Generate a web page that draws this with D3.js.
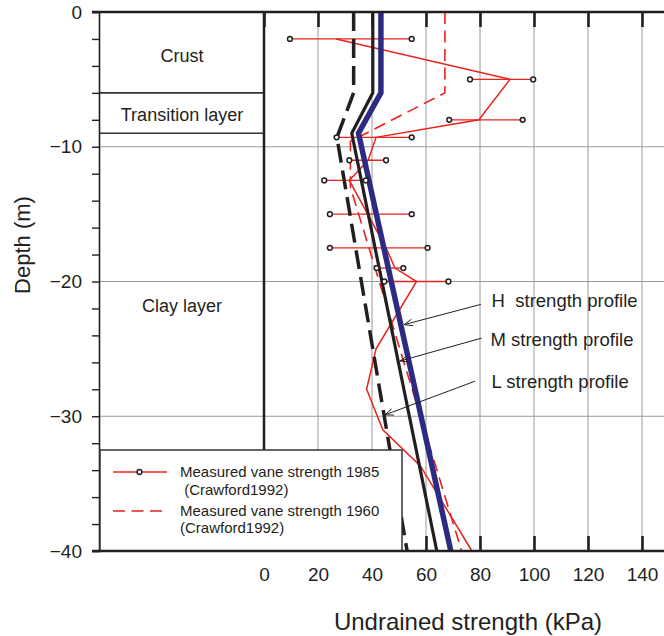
<!DOCTYPE html>
<html><head><meta charset="utf-8">
<script src="https://cdn.jsdelivr.net/npm/d3@7"></script>
<style>
html,body{margin:0;padding:0;background:#fff;}
text{font-family:"Liberation Sans",Arial,Helvetica,sans-serif;fill:#231f20;}
</style></head>
<body>
<svg id="chart" width="664" height="636"></svg>
<script>
// ---------- data ----------
const strengthTicks = [0, 20, 40, 60, 80, 100, 120, 140];
const depthTicks = [0, -10, -20, -30, -40];
const gridDepths = [-10, -20, -30];

// Strength profiles (kPa vs depth m)
const profileDepthH = [0, -6, -9, -40];
const profileH = [43.3, 43.3, 35, 69.2];
const profileDepthM = [0, -6, -9, -40];
const profileM = [40.3, 40.3, 32.5, 64];
const profileDepthL = [0, -6, -9.3, -40];
const profileL = [33.2, 33.2, 27, 53];

// Measured vane strength 1960 (Crawford 1992)
const vane1960Depth = [0, -6, -9.6, -13, -40];
const vane1960 = [67, 67, 32, 32, 73.2];

// Measured vane strength 1985 (Crawford 1992): mean line
const vane1985Depth = [-2, -5, -8, -9.3, -11, -12.5, -15, -17.5, -19, -20, -25, -28, -31, -33.7, -40];
const vane1985 = [26.7, 91.1, 79.6, 41.5, 38.6, 31.6, 38.4, 45.2, 48.5, 56.5, 41.5, 38, 44, 58, 77];
// range bars
const barDepth = [-2, -5, -8, -9.3, -11, -12.5, -15, -17.5, -19, -20];
const barMin = [9.6, 76.3, 68.6, 26.9, 31.6, 22.3, 24.4, 24.4, 41.7, 44.6];
const barMax = [54.7, 99.7, 95.8, 54.7, 45.2, 37.7, 54.7, 60.6, 51.6, 68.3];

// Layers
const layerNames = ["Crust", "Transition layer", "Clay layer"];
const layerTop = [0, -6, -9];
const layerBottom = [-6, -9, -40];
const layerLabelDepth = [-3.7, -8.1, -22.3];

// Annotations
const annoText = ["H  strength profile", "M strength profile", "L strength profile"];
const annoTextX = [84.3, 83.9, 84.3];
const annoTextDepth = [-21.9, -24.8, -27.9];
const annoFromX = [80.3, 80.6, 78.1];
const annoFromDepth = [-21.7, -24.2, -27.4];
const annoToX = [51.9, 50.4, 44.8];
const annoToDepth = [-23.2, -25.9, -29.9];

const legendLabels = [["Measured vane strength 1985", " (Crawford1992)"], ["Measured vane strength 1960", "(Crawford1992)"]];

// ---------- layout ----------
const RED = "#e8231d", BLUE = "#2d2a84", INK = "#231f20", GRID = "#9a9a9a";
const svg = d3.select("#chart");
const plotLeft = 99, plotRight = 668;
const x = d3.scaleLinear().domain([0, 140]).range([264, 642]);
const y = d3.scaleLinear().domain([0, -40]).range([12, 551]);

// gridlines
svg.append("g").selectAll("line").data(strengthTicks.slice(1)).join("line")
  .attr("x1", d => x(d)).attr("x2", d => x(d)).attr("y1", y(0)).attr("y2", y(-40))
  .attr("stroke", GRID).attr("stroke-width", 1);
svg.append("g").selectAll("line").data(gridDepths).join("line")
  .attr("x1", plotLeft).attr("x2", plotRight).attr("y1", d => y(d)).attr("y2", d => y(d))
  .attr("stroke", GRID).attr("stroke-width", 1);

// layer column
const layers = svg.append("g");
layers.selectAll("line").data(layerBottom.slice(0, 2)).join("line")
  .attr("x1", plotLeft).attr("x2", x(0)).attr("y1", d => y(d)).attr("y2", d => y(d))
  .attr("stroke", "#333").attr("stroke-width", 1.6);
layers.append("line").attr("x1", x(0)).attr("x2", x(0)).attr("y1", y(0)).attr("y2", y(-40))
  .attr("stroke", INK).attr("stroke-width", 2.5);
layers.selectAll("text").data(layerNames).join("text")
  .attr("x", (plotLeft + x(0)) / 2 + 0.5).attr("y", (d, i) => y(layerLabelDepth[i]))
  .attr("text-anchor", "middle").attr("font-size", 18).text(d => d);

// line generator
const line = d3.line().x(d => x(d[0])).y(d => y(d[1]));
const zipP = (vals, deps) => vals.map((v, i) => [v, deps[i]]);

// 1985 range bars
const bars = svg.append("g");
bars.selectAll("line").data(barDepth).join("line")
  .attr("x1", (d, i) => x(barMin[i])).attr("x2", (d, i) => x(barMax[i]))
  .attr("y1", d => y(d)).attr("y2", d => y(d))
  .attr("stroke", RED).attr("stroke-width", 1.3);

// 1960 dashed
svg.append("path").attr("d", line(zipP(vane1960, vane1960Depth)))
  .attr("fill", "none").attr("stroke", RED).attr("stroke-width", 1.6).attr("stroke-dasharray", "12,6.5");
// 1985 line
svg.append("path").attr("d", line(zipP(vane1985, vane1985Depth)))
  .attr("fill", "none").attr("stroke", RED).attr("stroke-width", 1.5).attr("stroke-linejoin", "miter");

// profiles
svg.append("path").attr("d", line(zipP(profileL, profileDepthL)))
  .attr("fill", "none").attr("stroke", INK).attr("stroke-width", 3.5).attr("stroke-dasharray", "19,8");
svg.append("path").attr("d", line(zipP(profileM, profileDepthM)))
  .attr("fill", "none").attr("stroke", INK).attr("stroke-width", 3.2);
svg.append("path").attr("d", line(zipP(profileH, profileDepthH)))
  .attr("fill", "none").attr("stroke", BLUE).attr("stroke-width", 5.5);

// bar end circles
const circ = svg.append("g");
const ends = [];
barDepth.forEach((d, i) => { ends.push([barMin[i], d]); ends.push([barMax[i], d]); });
circ.selectAll("circle").data(ends).join("circle")
  .attr("cx", d => x(d[0])).attr("cy", d => y(d[1])).attr("r", 2.4)
  .attr("fill", "#fff").attr("stroke", INK).attr("stroke-width", 1.5);

// annotations
const anno = svg.append("g");
anno.selectAll("line").data(annoText).join("line")
  .attr("x1", (d, i) => x(annoFromX[i])).attr("y1", (d, i) => y(annoFromDepth[i]))
  .attr("x2", (d, i) => x(annoToX[i])).attr("y2", (d, i) => y(annoToDepth[i]))
  .attr("stroke", INK).attr("stroke-width", 1);
anno.selectAll("path.head").data(annoText).join("path").attr("class", "head")
  .attr("d", (d, i) => {
    const x1 = x(annoFromX[i]), y1 = y(annoFromDepth[i]), x2 = x(annoToX[i]), y2 = y(annoToDepth[i]);
    const a = Math.atan2(y1 - y2, x1 - x2), L = 9, w = 0.38;
    const p1 = [x2 + L * Math.cos(a + w), y2 + L * Math.sin(a + w)];
    const p2 = [x2 + L * Math.cos(a - w), y2 + L * Math.sin(a - w)];
    return `M${p1}L${x2},${y2}L${p2}`;
  })
  .attr("fill", "none").attr("stroke", INK).attr("stroke-width", 1);
anno.selectAll("text").data(annoText).join("text")
  .attr("x", (d, i) => x(annoTextX[i])).attr("y", (d, i) => y(annoTextDepth[i]))
  .attr("font-size", 18.5).style("white-space", "pre").text(d => d);

// axes
const yAxis = d3.axisLeft(y).tickValues(d3.range(0, -41, -2)).tickSize(7).tickPadding(10)
  .tickFormat(d => d % 10 === 0 ? d3.format("d")(d) : "");
const gy = svg.append("g").attr("transform", `translate(${plotLeft},0)`).call(yAxis);
gy.select(".domain").attr("stroke", INK).attr("stroke-width", 1.6);
gy.selectAll(".tick line").attr("stroke", INK).attr("stroke-width", 1.4);
gy.selectAll(".tick text").attr("font-size", 19).attr("font-family", "Liberation Sans, Arial, sans-serif").attr("fill", INK);

const xTop = d3.axisTop(x).tickValues(strengthTicks).tickSizeInner(-15).tickSizeOuter(0).tickFormat("");
const gt = svg.append("g").attr("transform", `translate(0,${y(0)})`).call(xTop);
gt.select(".domain").remove();
gt.selectAll(".tick line").attr("stroke", INK).attr("stroke-width", 2.6);

const xBot = d3.axisBottom(x).tickValues(strengthTicks).tickSizeInner(-15).tickSizeOuter(0).tickPadding(16.5);
const gb = svg.append("g").attr("transform", `translate(0,${y(-40)})`).call(xBot);
gb.select(".domain").remove();
gb.selectAll(".tick line").attr("stroke", INK).attr("stroke-width", 2.6);
gb.selectAll(".tick text").attr("font-size", 19).attr("font-family", "Liberation Sans, Arial, sans-serif").attr("fill", INK);

// legend
const lg = svg.append("g");
lg.append("rect").attr("x", 100).attr("y", 450).attr("width", 302).attr("height", 101)
  .attr("fill", "#fff").attr("stroke", "#333").attr("stroke-width", 1.5);
lg.append("line").attr("x1", 113).attr("x2", 167).attr("y1", 472).attr("y2", 472)
  .attr("stroke", RED).attr("stroke-width", 1.3);
lg.append("circle").attr("cx", 139.5).attr("cy", 472).attr("r", 2.4)
  .attr("fill", "#fff").attr("stroke", INK).attr("stroke-width", 1.5);
lg.append("line").attr("x1", 113).attr("x2", 163).attr("y1", 511).attr("y2", 511)
  .attr("stroke", RED).attr("stroke-width", 1.6).attr("stroke-dasharray", "12,6.5");
const legY = [[477, 494.5], [516, 533]];
legendLabels.forEach((lbl, i) => {
  lbl.forEach((t, j) => {
    lg.append("text").attr("x", 180).attr("y", legY[i][j]).attr("font-size", 15)
      .style("white-space", "pre").text(t);
  });
});

// borders (top & bottom)
svg.append("line").attr("x1", 92).attr("x2", plotRight).attr("y1", y(0)).attr("y2", y(0))
  .attr("stroke", INK).attr("stroke-width", 2.6);
svg.append("line").attr("x1", 92).attr("x2", plotRight).attr("y1", y(-40)).attr("y2", y(-40))
  .attr("stroke", INK).attr("stroke-width", 2.6);

// axis titles
svg.append("text").attr("transform", "translate(30,245) rotate(-90)")
  .attr("text-anchor", "middle").attr("font-size", 22).text("Depth (m)");
svg.append("text").attr("x", 468).attr("y", 630)
  .attr("text-anchor", "middle").attr("font-size", 24).text("Undrained strength (kPa)");
</script>
</body></html>
